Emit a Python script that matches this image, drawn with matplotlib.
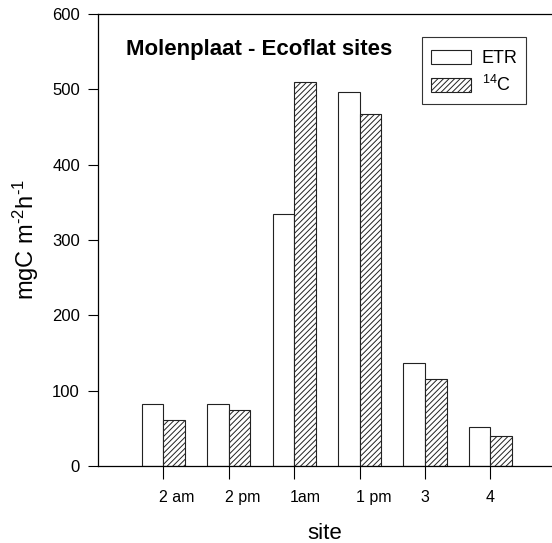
import numpy as np
import matplotlib
matplotlib.use('Agg')
from matplotlib import pyplot as plt
from matplotlib.patches import Rectangle
from matplotlib.transforms import ScaledTranslation

plt.rcParams['font.family'] = ['Liberation Sans', 'DejaVu Sans']
plt.rcParams['mathtext.fontset'] = 'custom'
plt.rcParams['mathtext.rm'] = 'Liberation Sans'
plt.rcParams['mathtext.default'] = 'rm'
plt.rcParams['hatch.linewidth'] = 0.7
plt.rcParams['hatch.color'] = '#333333'

sites = ['2 am', '2 pm', '1am', '1 pm', '3', '4']
etr = [82, 82, 334, 497, 137, 52]
c14 = [61, 75, 510, 467, 116, 40]

fig = plt.figure(figsize=(5.52, 5.43), dpi=100)
ax = fig.add_axes([98/552, 77/543, 1 - 98/552, 452/543])

x = np.arange(1, len(sites) + 1)
w = 0.33
ax.bar(x - w/2, etr, w, facecolor='white', edgecolor='#222222', lw=0.8, label='ETR')
ax.bar(x + w/2, c14, w, facecolor='white', edgecolor='#222222', lw=0.8,
       hatch='//////', label='$^{14}$C')

ax.set_xlim(0, (552 - 98) / 65.4)
ax.set_ylim(0, 600)
ax.set_yticks(range(0, 601, 100))
ax.set_xticks(x)
ax.set_xticklabels(sites)
ax.spines['right'].set_visible(False)
for s in ('left', 'top', 'bottom'):
    ax.spines[s].set_linewidth(0.9)
ax.tick_params(axis='y', direction='out', length=7, width=0.8, labelsize=12, pad=6)
ax.tick_params(axis='x', direction='out', length=9, width=0.8, labelsize=11.5, pad=8)

# tick labels sit slightly right of the ticks in the original
for i, lab in enumerate(ax.get_xticklabels()):
    if i < 4:
        lab.set_ha('left')
        lab.set_transform(lab.get_transform() + ScaledTranslation(-4/100, 0, fig.dpi_scale_trans))

ax.set_xlabel('site', fontsize=16, labelpad=13)
ax.set_ylabel(r'mgC m$^{\text{-2}}$h$^{\text{-1}}$', fontsize=17, labelpad=8)
fig.text(126/552, 1 - 50/543, 'Molenplaat - Ecoflat sites', fontsize=16,
         fontweight='bold', va='center', ha='left')

leg = ax.legend(loc='upper left', bbox_to_anchor=((422 - 98) / 454, 1 - 27/452),
                frameon=False, fontsize=13, handlelength=2.2, handleheight=0.8,
                borderpad=0.0, labelspacing=0.45, handletextpad=0.6)
for h in leg.legend_handles:
    h.set_linewidth(0.8)
fig.patches.append(Rectangle((422/552, 1 - 104/543), 104/552, 67/543,
                             transform=fig.transFigure, fill=False,
                             edgecolor='#333333', lw=0.8))

fig.savefig('out.png', dpi=100)
